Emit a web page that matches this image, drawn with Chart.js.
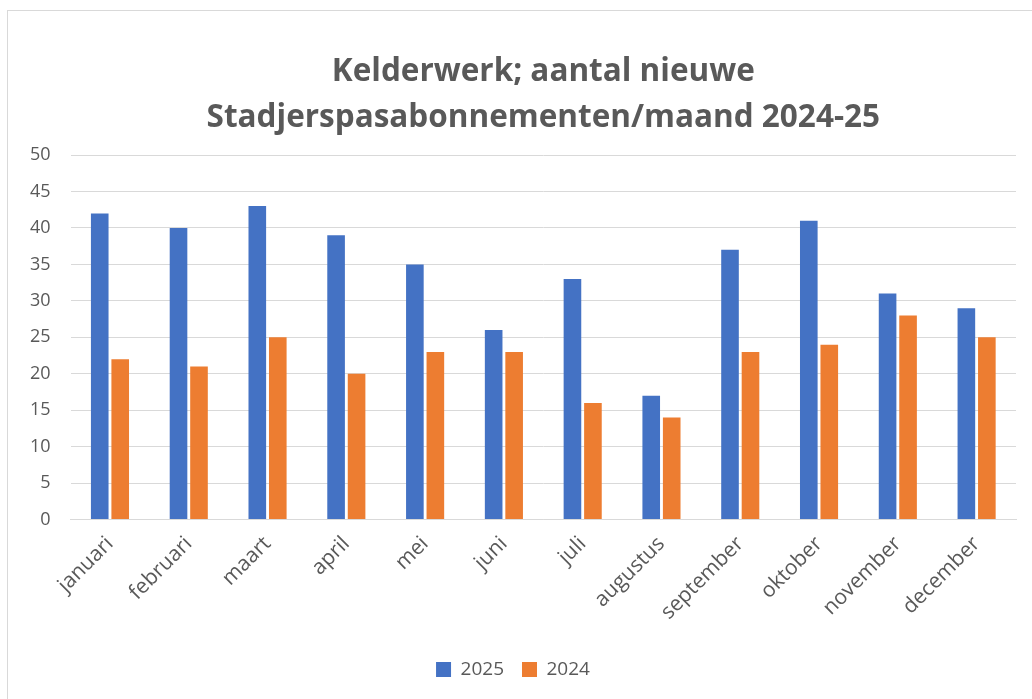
<!DOCTYPE html>
<html><head><meta charset="utf-8">
<script src="https://cdn.jsdelivr.net/npm/chart.js@4"></script>
<style>
html,body{margin:0;padding:0;background:#fff;}
#frame{position:absolute;left:7px;top:10px;width:1030px;height:700px;border:1px solid #d9d9d9;box-sizing:border-box;}
#wrap{position:absolute;left:0;top:0;width:1032px;height:699px;}
</style></head>
<body>
<div id="frame"></div>
<div id="wrap"><canvas id="c" width="1032" height="699"></canvas></div>
<script>
const categories = ["januari","februari","maart","april","mei","juni","juli","augustus","september","oktober","november","december"];
const series2025 = [42,40,43,39,35,26,33,17,37,41,31,29];
const series2024 = [22,21,25,20,23,23,16,14,23,24,28,25];
const titleLines = ["Kelderwerk; aantal nieuwe","Stadjerspasabonnementen/maand 2024-25"];
const FONT = "'Open Sans', 'Liberation Sans', sans-serif";
new Chart(document.getElementById('c'), {
  type: 'bar',
  data: {
    labels: categories,
    datasets: [
      {label: '2025', data: series2025, backgroundColor: '#4472c4', barPercentage: 0.86, categoryPercentage: 0.52},
      {label: '2024', data: series2024, backgroundColor: '#ed7d31', barPercentage: 0.86, categoryPercentage: 0.52}
    ]
  },
  options: {
    responsive: false,
    animation: false,
    layout: {padding: {left: 10, right: 16, top: 50, bottom: 10}},
    plugins: {
      title: {display: true, fullSize: false, text: titleLines, color: '#595959', font: {family: FONT, size: 31.5, weight: 'bold', lineHeight: 1.43}, padding: {top: 0, bottom: 15}},
      legend: {position: 'bottom', labels: {color: '#595959', font: {family: FONT, size: 19}, boxWidth: 15, boxHeight: 15, padding: 18}},
      tooltip: {enabled: false}
    },
    scales: {
      x: {
        grid: {display: false},
        border: {display: true, color: '#d9d9d9'},
        title: {display: true, text: ' ', font: {size: 11, lineHeight: 1.2}, padding: 0},
        ticks: {color: '#595959', font: {family: FONT, size: 21}, maxRotation: 45, minRotation: 45, padding: 4}
      },
      y: {
        min: 0, max: 50,
        grid: {color: '#d9d9d9', lineWidth: 1, drawTicks: false},
        border: {display: false},
        ticks: {stepSize: 5, color: '#595959', font: {family: FONT, size: 18}, padding: 20}
      }
    }
  }
});
</script>
</body></html>
